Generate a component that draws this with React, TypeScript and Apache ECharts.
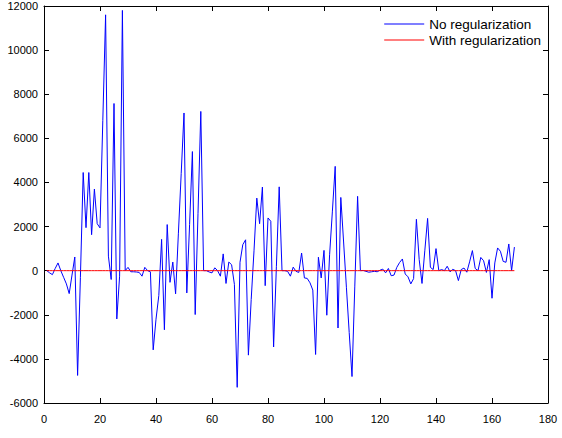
import React, { useEffect, useRef } from "react";
import * as echarts from "echarts";

const noReg: number[] = [
  0, -100, -180, 100, 350, 0, -300, -600, -1040, -200,
  620, -4750, -300, 4450, 1950, 4450, 1630, 3700, 2130, 1940,
  6800, 11600, 660, -400, 7580, -2190, -250, 11800, 0, 150,
  -50, -50, -60, -80, -250, 150, 0, -50, -3590, -2200,
  -1130, 1420, -2680, 2090, -530, 390, -1050, 1700, 4400, 7150,
  -1010, 2100, 5400, -1990, 2600, 7220, 0, 0, -60, -100,
  130, 0, -250, 760, -580, 390, 270, -620, -5290, 380,
  1180, 1400, -3830, -1310, 900, 3290, 2130, 3790, -680, 2390,
  2240, -3460, 200, 3800, 0, 0, -30, -250, 160, -30,
  -80, 800, -330, -350, -550, -880, -3800, 610, -330, 920,
  -2020, 720, 2700, 4730, -2600, 3320, 1300, -750, -2800, -4800,
  -700, 3370, 0, 10, -30, -70, -50, -30, -50, 20,
  70, -100, 100, -230, -200, 150, 370, 530, -150, -280,
  -600, -360, 2330, 500, -580, 900, 2370, 150, 50, 1000,
  0, 50, 0, 200, -50, 60, 0, -450, 50, 120,
  -70, 400, 910, 100, 0, 600, 450, -80, 500, -1250,
  350, 1030, 880, 420, 380, 1210, 0, 1070,
];
const withReg: number[] = noReg.map(() => 0);
const xStart = 1;

const xTicks = { min: 0, max: 180, interval: 20 };
const yTicks = { min: -6000, max: 12000, interval: 2000 };
const seriesNames = ["No regularization", "With regularization"];

export default function App() {
  const ref = useRef<HTMLDivElement>(null);
  useEffect(() => {
    if (!ref.current) return;
    const chart = echarts.init(ref.current, null, { renderer: "svg" });
    const font = "'Liberation Sans', Arial, Helvetica, sans-serif";
    const toPairs = (arr: number[]) => arr.map((v, i) => [i + xStart, v]);
    const axisLine = { show: true, onZero: false, lineStyle: { color: "#000", width: 1 } };
    const tick = { show: true, inside: true, length: 5, lineStyle: { color: "#000" } };
    const fmt = (v: number) => String(v);
    chart.setOption({
      animation: false,
      backgroundColor: "#fff",
      grid: { left: 44, right: 14, top: 6, bottom: 35 },
      legend: {
        data: seriesNames,
        orient: "vertical",
        right: 16,
        top: 12,
        icon: "rect",
        itemWidth: 40,
        itemHeight: 1,
        itemGap: 2,
        textStyle: { fontFamily: font, fontSize: 13.5, color: "#000" },
      },
      xAxis: [
        {
          type: "value",
          ...xTicks,
          axisLine,
          axisTick: tick,
          splitLine: { show: false },
          axisLabel: { fontFamily: font, fontSize: 11, color: "#000", margin: 10, formatter: fmt },
        },
        {
          type: "value",
          position: "top",
          ...xTicks,
          axisLine,
          axisTick: tick,
          splitLine: { show: false },
          axisLabel: { show: false },
        },
      ],
      yAxis: [
        {
          type: "value",
          ...yTicks,
          axisLine,
          axisTick: tick,
          splitLine: { show: false },
          axisLabel: { fontFamily: font, fontSize: 11, color: "#000", margin: 6, formatter: fmt },
        },
        {
          type: "value",
          position: "right",
          ...yTicks,
          axisLine,
          axisTick: tick,
          splitLine: { show: false },
          axisLabel: { show: false },
        },
      ],
      series: [
        {
          name: seriesNames[0],
          type: "line",
          data: toPairs(noReg),
          showSymbol: false,
          symbol: "none",
          lineStyle: { color: "#0000ff", width: 1 },
          itemStyle: { color: "#0000ff" },
        },
        {
          name: seriesNames[1],
          type: "line",
          data: toPairs(withReg),
          showSymbol: false,
          symbol: "none",
          lineStyle: { color: "#ff0000", width: 1 },
          itemStyle: { color: "#ff0000" },
        },
      ],
    });
    return () => chart.dispose();
  }, []);
  return <div ref={ref} style={{ width: 562, height: 438, position: "absolute", left: 0, top: 0 }} />;
}
